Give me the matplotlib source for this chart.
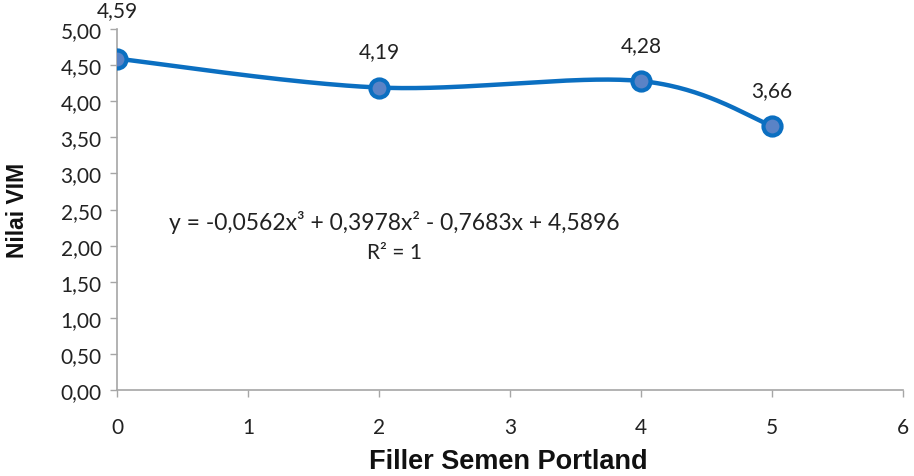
import numpy as np
import matplotlib.pyplot as plt
from matplotlib import font_manager

# Data
filler = [0, 2, 4, 5]
vim = [4.59, 4.19, 4.28, 3.66]
x_ticks = [0, 1, 2, 3, 4, 5, 6]
y_ticks = [0.0, 0.5, 1.0, 1.5, 2.0, 2.5, 3.0, 3.5, 4.0, 4.5, 5.0]
equation = "y = -0,0562x³ + 0,3978x² - 0,7683x + 4,5896"
r_squared = "R² = 1"

line_color = "#0B6FC1"
face_color = "#5A83C6"


def comma(v, digits=2):
    return f"{v:.{digits}f}".replace(".", ",")


# Excel-like smoothed line (Bezier through the points)
def smooth_curve(xs, ys, steps=60):
    pts = np.column_stack([xs, ys]).astype(float)
    n = len(pts)
    out = []
    for i in range(n - 1):
        p0 = pts[max(i - 1, 0)]
        p1 = pts[i]
        p2 = pts[i + 1]
        p3 = pts[min(i + 2, n - 1)]
        c1 = p1 + (p2 - p0) / 6
        c2 = p2 - (p3 - p1) / 6
        t = np.linspace(0, 1, steps)[:, None]
        seg = ((1 - t) ** 3) * p1 + 3 * ((1 - t) ** 2) * t * c1 + 3 * (1 - t) * t ** 2 * c2 + t ** 3 * p2
        out.append(seg)
    curve = np.vstack(out)
    return curve[:, 0], curve[:, 1]


names = {f.name for f in font_manager.fontManager.ttflist}
label_font = "Liberation Sans Narrow" if "Liberation Sans Narrow" in names else "Liberation Sans"
plt.rcParams['font.family'] = ['Lato', 'DejaVu Sans']

fig = plt.figure(figsize=(9.14, 4.77), dpi=100)
ax = fig.add_axes([0.128, 0.180, 0.860, 0.757])

cx, cy = smooth_curve(filler, vim)
ax.plot(cx, cy, color=line_color, lw=3.2, solid_capstyle='round', zorder=2)
ax.plot(filler, vim, 'o', ms=13, mfc=face_color, mec=line_color, mew=3, zorder=3)

for i, (x, y) in enumerate(zip(filler, vim)):
    dy = 35 if i == 0 else 26
    ax.annotate(comma(y), (x, y), xytext=(0, dy), textcoords='offset points',
                ha='center', va='center', fontsize=15, color='#222222', clip_on=False)

ax.text(2.12, 2.34, equation, ha='center', va='center', fontsize=16.5, color='#222222')
ax.text(2.12, 1.91, r_squared, ha='center', va='center', fontsize=15, color='#222222')

ax.set_xlim(0, 6)
ax.set_ylim(0, 5)
ax.set_xticks(x_ticks)
ax.set_xticklabels([str(t) for t in x_ticks])
ax.set_yticks(y_ticks)
ax.set_yticklabels([comma(t) for t in y_ticks])
ax.tick_params(axis='both', labelsize=15, colors='#222222', length=5, width=1,
               direction='out', color='#A6A6A6')
ax.tick_params(axis='x', pad=14)
ax.tick_params(axis='y', pad=6)

for side in ['top', 'right']:
    ax.spines[side].set_visible(False)
for side in ['left', 'bottom']:
    ax.spines[side].set_color('#A6A6A6')
    ax.spines[side].set_linewidth(1.2)

fig.text(0.556, 8 / 477, "Filler Semen Portland", ha='center', va='baseline',
         fontsize=19.5, fontweight='bold', family=[label_font, 'DejaVu Sans'], color='#111111')
fig.text(18 / 914, 0.558, "Nilai VIM", ha='center', va='center', rotation=90,
         fontsize=16.5, fontweight='bold', family=[label_font, 'DejaVu Sans'], color='#111111')

fig.savefig("out.png", dpi=100)
